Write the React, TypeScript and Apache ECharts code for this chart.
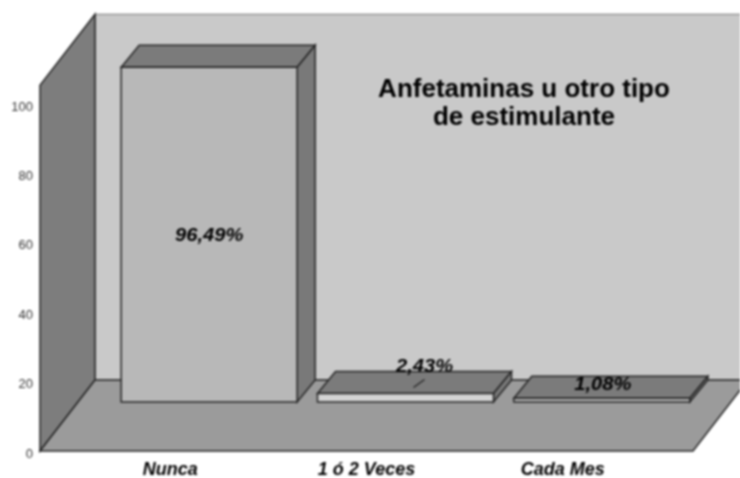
import React, { useEffect, useRef } from "react";
import * as echarts from "echarts";

const categories = ["Nunca", "1 ó 2 Veces", "Cada Mes"];
const values = [96.49, 2.43, 1.08];
const valueLabels = ["96,49%", "2,43%", "1,08%"];
const yTicks = [0, 20, 40, 60, 80, 100];
const titleText = "Anfetaminas u otro tipo\nde estimulante";

const FONT = "'Liberation Sans', Arial, sans-serif";
const LINE = "#262626";
// 3D projection, in pixels
const AXIS_SHIFT = -2; // the tick labels sit slightly below the drawn scale
const ROOM_DX = 55;
const ROOM_DY = -71;
const ROOM_LEFT = 40;
const ROOM_RIGHT = 693;
const ROOM_TOP_VALUE = 105.4;
const BAR_SHIFT_X = 39;
const BAR_SHIFT_Y = -49 + AXIS_SHIFT;
const BAR_WIDTH = 176;
const BAR_DX = 18;
const BAR_DY = -22;
const LABEL_OFFSETS = [
  [0, 0],
  [19, -32],
  [1, -16],
];

function renderRoom(_p: any, api: any) {
  const y0 = api.coord([0, 0])[1] + AXIS_SHIFT;
  const yt = api.coord([0, ROOM_TOP_VALUE])[1] + AXIS_SHIFT;
  const poly = (points: number[][], fill: string, stroke = LINE, lineWidth = 1.5) => ({
    type: "polygon",
    shape: { points },
    style: { fill, stroke, lineWidth },
  });
  const backX = ROOM_LEFT + ROOM_DX;
  const backBottom = y0 + ROOM_DY;
  const backTop = yt + ROOM_DY;
  return {
    type: "group",
    children: [
      poly([[backX, backTop], [760, backTop], [760, backBottom], [backX, backBottom]], "#c9c9c9", "#777777", 1),
      poly([[ROOM_LEFT, y0], [ROOM_LEFT, yt], [backX, backTop], [backX, backBottom]], "#7d7d7d"),
      poly([[ROOM_LEFT, y0], [backX, backBottom], [ROOM_RIGHT + ROOM_DX, backBottom], [ROOM_RIGHT, y0]], "#9b9b9b"),
    ],
  };
}

function renderBar(params: any, api: any) {
  const i = params.dataIndex;
  const base = api.coord([api.value(0), 0]);
  const top = api.coord([api.value(0), api.value(1)]);
  const cx = base[0] + BAR_SHIFT_X;
  const l = cx - BAR_WIDTH / 2;
  const r = cx + BAR_WIDTH / 2;
  const b = base[1] + BAR_SHIFT_Y;
  const t = top[1] + BAR_SHIFT_Y;
  const style = (fill: string) => ({ fill, stroke: LINE, lineWidth: 1.5 });
  const front = i === 1 ? "#d4d4d4" : "#b8b8b8";
  const children: any[] = [
    { type: "polygon", shape: { points: [[l, t], [r, t], [r + BAR_DX, t + BAR_DY], [l + BAR_DX, t + BAR_DY]] }, style: style("#7b7b7b") },
    { type: "polygon", shape: { points: [[r, t], [r + BAR_DX, t + BAR_DY], [r + BAR_DX, b + BAR_DY], [r, b]] }, style: style("#797979") },
    { type: "polygon", shape: { points: [[l, t], [r, t], [r, b], [l, b]] }, style: style(front) },
  ];
  const off = LABEL_OFFSETS[i];
  if (i === 1) {
    children.push({
      type: "line",
      shape: { x1: cx + 8, y1: t - 6, x2: cx + 19, y2: t - 14 },
      style: { stroke: "#222222", lineWidth: 1.2 },
    });
  }
  children.push({
    type: "text",
    x: cx + off[0],
    y: (t + b) / 2 + off[1],
    scaleX: 1.12,
    style: {
      text: valueLabels[i],
      fontFamily: FONT,
      fontWeight: "bold",
      fontStyle: "italic",
      fontSize: 18,
      fill: "#000000",
      align: "center",
      verticalAlign: "middle",
    },
  });
  return { type: "group", children };
}

export default function App() {
  const ref = useRef<HTMLDivElement>(null);
  useEffect(() => {
    document.body.style.margin = "0";
    const chart = echarts.init(ref.current!, undefined, { renderer: "svg" });
    chart.setOption({
      animation: false,
      backgroundColor: "#ffffff",
      title: {
        text: titleText,
        left: 519,
        top: 69,
        textAlign: "center",
        textStyle: { fontFamily: FONT, fontSize: 26, fontWeight: "bold", color: "#000000", lineHeight: 28 },
      },
      grid: { left: 72, right: 79, top: 106, bottom: 23 },
      xAxis: {
        type: "category",
        data: categories,
        axisLine: { show: false },
        axisTick: { show: false },
        axisLabel: {
          margin: 7,
          color: "#000000",
          fontFamily: FONT,
          fontWeight: "bold",
          fontStyle: "italic",
          fontSize: 18,
          interval: 0,
        },
      },
      yAxis: {
        type: "value",
        min: 0,
        max: 100,
        interval: yTicks[1] - yTicks[0],
        axisLine: { show: false },
        axisTick: { show: false },
        splitLine: { show: false },
        axisLabel: { margin: 39, color: "#333333", fontFamily: FONT, fontSize: 13 },
      },
      series: [
        { type: "custom", z: 1, silent: true, data: [[0, 0]], renderItem: renderRoom, encode: { x: 0, y: 1 } },
        {
          type: "custom",
          z: 2,
          data: values.map((v, i) => [i, v]),
          renderItem: renderBar,
          encode: { x: 0, y: 1 },
        },
      ],
    });
    return () => chart.dispose();
  }, []);
  return (
    <div
      ref={ref}
      style={{ position: "absolute", left: 0, top: 0, width: 740, height: 478, filter: "blur(0.8px)" }}
    />
  );
}
